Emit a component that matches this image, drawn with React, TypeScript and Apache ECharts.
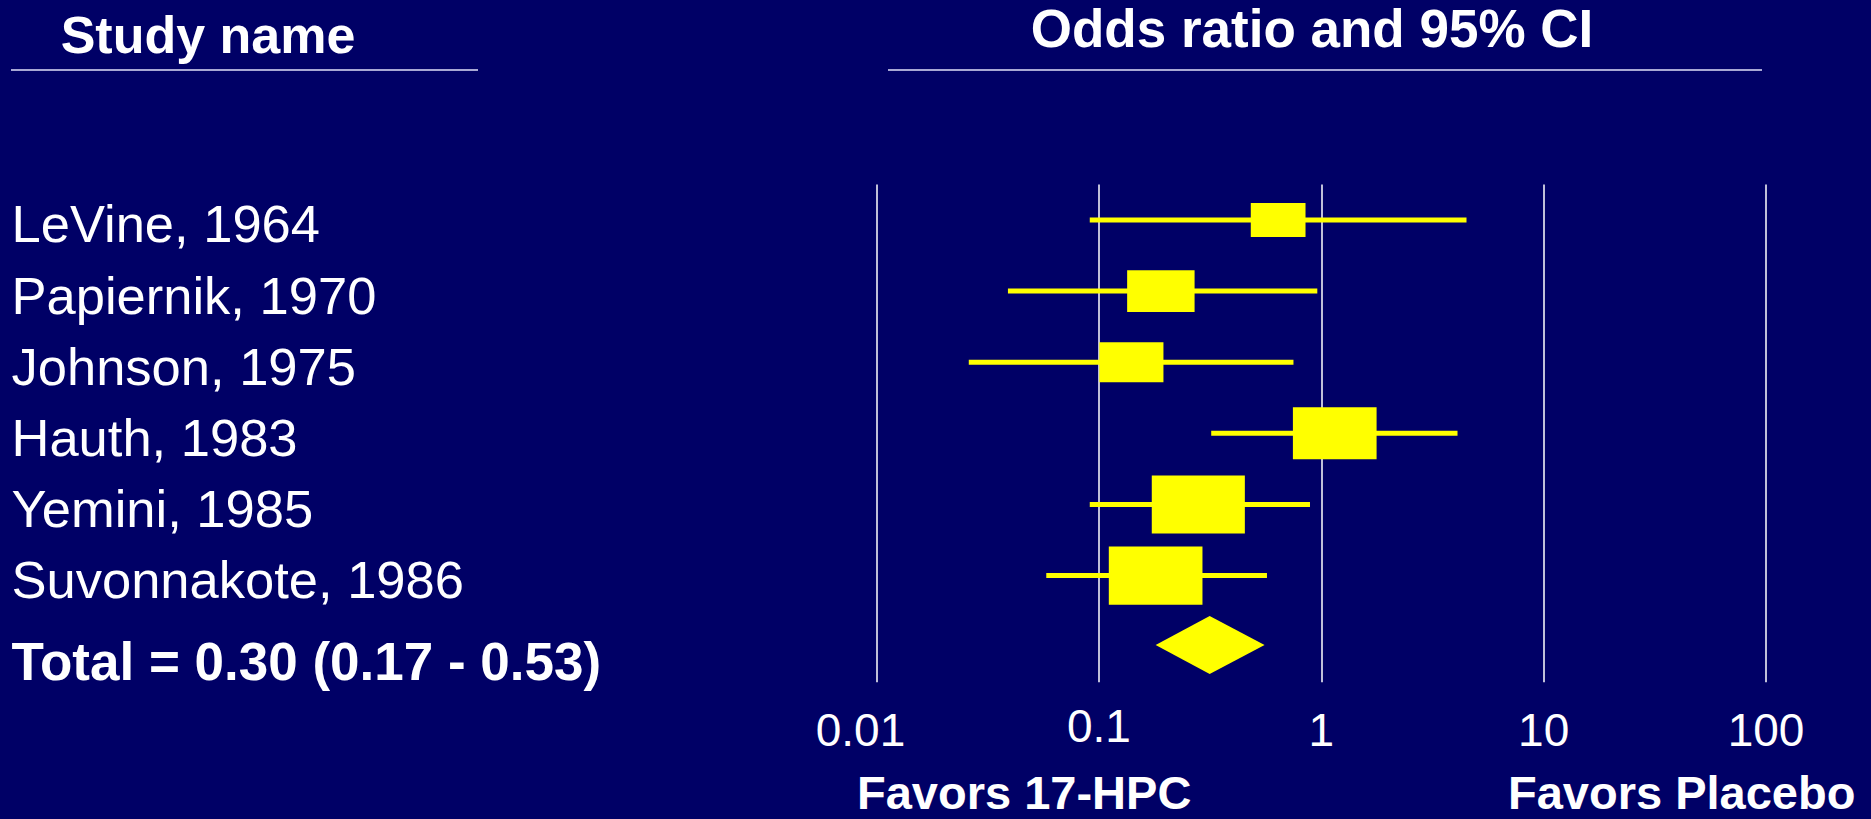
import React, { useEffect, useRef } from "react";
import * as echarts from "echarts";

// ---- data ----
const studies = [
  "LeVine, 1964",
  "Papiernik, 1970",
  "Johnson, 1975",
  "Hauth, 1983",
  "Yemini, 1985",
  "Suvonnakote, 1986",
];
const oddsRatio = [0.64, 0.19, 0.14, 1.15, 0.28, 0.18];
const ciLow = [0.091, 0.039, 0.026, 0.32, 0.091, 0.058];
const ciHigh = [4.5, 0.96, 0.75, 4.1, 0.89, 0.57];
const weights = [8.3, 12.6, 11.4, 19.4, 24.0, 24.3];
const totalLabel = "Total = 0.30 (0.17 - 0.53)";
const totalEstimate = [0.18, 0.315, 0.556]; // low, estimate, high as drawn
const xTickLabels = ["0.01", "0.1", "1", "10", "100"];
const headerLeft = "Study name";
const headerRight = "Odds ratio and 95% CI";
const footerLeft = "Favors 17-HPC";
const footerRight = "Favors Placebo";

const FONT = "'Liberation Sans', Arial, Helvetica, sans-serif";
const YELLOW = "#FFFF00";
const BG = "#000066";

export default function App() {
  const ref = useRef<HTMLDivElement>(null);

  useEffect(() => {
    if (!ref.current) return;
    const chart = echarts.init(ref.current, undefined, { renderer: "svg" });
    const categories = [...studies, totalLabel];
    const rowData = studies.map((_, i) => [i, ciLow[i], oddsRatio[i], ciHigh[i], weights[i]]);
    const totalData = [[studies.length, totalEstimate[0], totalEstimate[1], totalEstimate[2]]];

    const option: any = {
      animation: false,
      backgroundColor: BG,
      grid: { left: 876.5, top: 184.4, width: 889.5, height: 497.9, containLabel: false },
      xAxis: {
        type: "log",
        logBase: 10,
        min: 0.01,
        max: 100,
        axisLine: { show: false },
        axisTick: { show: false },
        splitLine: { show: true, lineStyle: { color: "#FFFFFF", width: 1.5 } },
        axisLabel: {
          show: true,
          showMinLabel: true,
          showMaxLabel: true,
          margin: 48,
          verticalAlign: "middle",
          color: "#FFFFFF",
          fontSize: 46,
          fontFamily: FONT,
          formatter: (v: number) => {
            const k = Math.round(Math.log10(v)) + 2;
            const s = xTickLabels[k] ?? String(v);
            if (k === 0) return "{a|" + s + "}";
            if (k === 1) return "{b|" + s + "}";
            return s;
          },
          rich: {
            a: { fontSize: 46, fontFamily: FONT, color: "#FFFFFF", padding: [0, 32, 0, 0] },
            b: { fontSize: 46, fontFamily: FONT, color: "#FFFFFF", padding: [0, 0, 8, 0] },
          },
        },
      },
      yAxis: {
        type: "category",
        data: categories,
        inverse: true,
        axisLine: { show: false },
        axisTick: { show: false },
        splitLine: { show: false },
        axisLabel: {
          interval: 0,
          align: "left",
          margin: 865,
          color: "#FFFFFF",
          fontSize: 52.5,
          fontFamily: FONT,
          formatter: (v: string, i: number) =>
            i === studies.length ? "{t|" + v + "}" : "{s|" + v + "}",
          rich: {
            s: { fontSize: 52.5, fontFamily: FONT, color: "#FFFFFF", padding: [8, 0, 0, 0] },
            t: { fontSize: 53, fontFamily: FONT, fontWeight: "bold", color: "#FFFFFF", padding: [30, 0, 0, 0] },
          },
        },
      },
      series: [
        {
          type: "custom",
          data: rowData,
          encode: { x: [1, 2, 3], y: 0 },
          renderItem: (params: any, api: any) => {
            const idx = api.value(0);
            const lo = api.coord([api.value(1), idx]);
            const est = api.coord([api.value(2), idx]);
            const hi = api.coord([api.value(3), idx]);
            const w = Math.sqrt(api.value(4));
            const bw = 19 * w;
            const bh = 11.8 * w;
            return {
              type: "group",
              children: [
                {
                  type: "line",
                  shape: { x1: lo[0], y1: lo[1], x2: hi[0], y2: hi[1] },
                  style: { stroke: YELLOW, lineWidth: 5 },
                },
                {
                  type: "rect",
                  shape: { x: est[0] - bw / 2, y: est[1] - bh / 2, width: bw, height: bh },
                  style: { fill: YELLOW },
                },
              ],
            };
          },
        },
        {
          type: "custom",
          data: totalData,
          encode: { x: [1, 2, 3], y: 0 },
          renderItem: (params: any, api: any) => {
            const idx = api.value(0);
            const lo = api.coord([api.value(1), idx]);
            const est = api.coord([api.value(2), idx]);
            const hi = api.coord([api.value(3), idx]);
            const h = 29;
            const cy = est[1] - 1.7;
            return {
              type: "polygon",
              shape: {
                points: [
                  [lo[0], cy],
                  [est[0], cy - h],
                  [hi[0], cy],
                  [est[0], cy + h],
                ],
              },
              style: { fill: YELLOW },
            };
          },
        },
      ],
      graphic: [
        {
          type: "text",
          style: {
            text: headerLeft, x: 208, y: 34.5, fill: "#FFFFFF",
            fontSize: 52, fontWeight: "bold", fontFamily: FONT,
            textAlign: "center", textVerticalAlign: "middle", align: "center", verticalAlign: "middle",
          },
        },
        {
          type: "text",
          style: {
            text: headerRight, x: 1312, y: 28.5, fill: "#FFFFFF",
            fontSize: 53, fontWeight: "bold", fontFamily: FONT,
            textAlign: "center", textVerticalAlign: "middle", align: "center", verticalAlign: "middle",
          },
        },
        {
          type: "line",
          shape: { x1: 11, y1: 70, x2: 478, y2: 70 },
          style: { stroke: "#A8A8D4", lineWidth: 2 },
        },
        {
          type: "line",
          shape: { x1: 888, y1: 70, x2: 1762, y2: 70 },
          style: { stroke: "#A8A8D4", lineWidth: 2 },
        },
        {
          type: "text",
          style: {
            text: footerLeft, x: 857, y: 792, fill: "#FFFFFF",
            fontSize: 47, lineHeight: 47, fontWeight: "bold", fontFamily: FONT,
            textAlign: "left", textVerticalAlign: "middle", align: "left", verticalAlign: "middle",
          },
        },
        {
          type: "text",
          style: {
            text: footerRight, x: 1508, y: 792, fill: "#FFFFFF",
            fontSize: 47, lineHeight: 47, fontWeight: "bold", fontFamily: FONT,
            textAlign: "left", textVerticalAlign: "middle", align: "left", verticalAlign: "middle",
          },
        },
      ],
    };
    chart.setOption(option);
    return () => chart.dispose();
  }, []);

  return (
    <div
      ref={ref}
      style={{ position: "absolute", left: 0, top: 0, width: 1871, height: 819, background: BG }}
    />
  );
}
